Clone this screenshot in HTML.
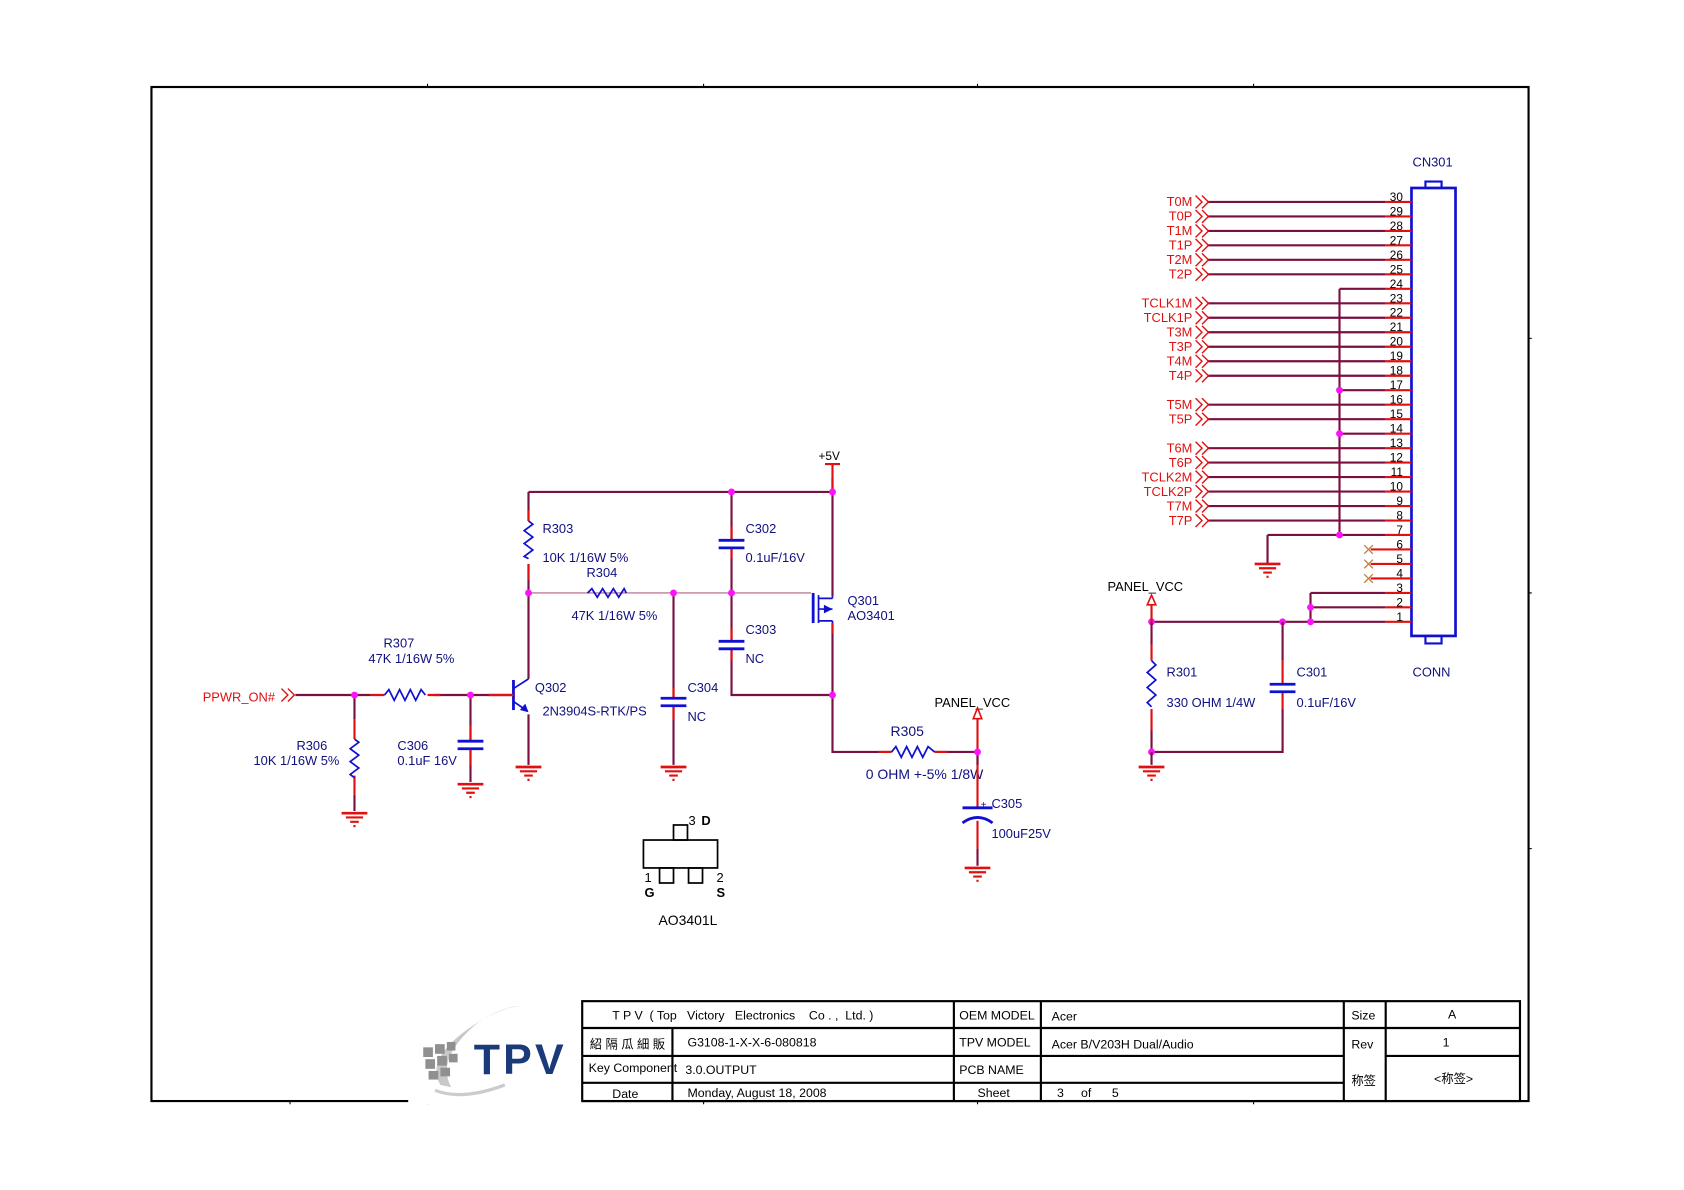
<!DOCTYPE html>
<html><head><meta charset="utf-8"><style>
html,body{margin:0;padding:0;background:#fff;}
svg{display:block;}
text{font-family:"Liberation Sans","Noto Sans CJK SC",sans-serif;}
.w{stroke:#7a1040;stroke-width:2;fill:none}
.t{stroke:#b06080;stroke-width:1;fill:none}
.r{stroke:#e01010;stroke-width:2;fill:none}
.b{stroke:#1010d0;stroke-width:1.6;fill:none}
.bb{stroke:#1010d0;stroke-width:2.6;fill:none}
.k{stroke:#000;stroke-width:1.6;fill:none}
.sig{fill:#e01010;font-size:12px;text-anchor:end}
.pn{fill:#000;font-size:11px;text-anchor:end}
.bl{fill:#101080;font-size:12px}
.tb{fill:#000;font-size:11.5px}
</style></head><body>
<svg width="1684" height="1190" viewBox="0 0 1567.7 1107.8" preserveAspectRatio="none" xmlns="http://www.w3.org/2000/svg">
<defs>
<g id="gnd"><path d="M-12 0H12" stroke="#e01010" stroke-width="2.5"/><path d="M-8 4H8M-4 8H4M-1 12H1" stroke="#e01010" stroke-width="2"/></g>
<g id="chev"><path d="M0 -6L6 0L0 6M6 -6L12 0L6 6" stroke="#e01010" stroke-width="1.3" fill="none"/></g>
<g id="jn"><circle r="3.2" fill="#ff10ff"/></g>
</defs>
<!-- frame -->
<rect x="141" y="81" width="1282" height="944" fill="none" stroke="#000" stroke-width="2"/>
<path d="M398 78v3M655 78v3M910 78v3M1167 78v3M1423 315h3M1423 552h3M1423 790h3M398 1025v3M655 1025v3M910 1025v3M1167 1025v3M270 1025v3" stroke="#000" stroke-width="1"/>

<!-- connector -->
<text x="1315" y="155" class="bl" font-size="12">CN301</text>
<rect x="1314" y="175" width="41" height="417" fill="none" stroke="#1010d0" stroke-width="2.5"/>
<rect x="1327" y="169" width="15" height="6" fill="none" stroke="#1010d0" stroke-width="2"/>
<rect x="1327" y="592" width="15" height="7" fill="none" stroke="#1010d0" stroke-width="2"/>
<text x="1315" y="630" class="bl">CONN</text>

<g>
<path class="w" d="M1124 188H1290M1124 201.5H1290M1124 215H1290M1124 228.4H1290M1124 241.9H1290M1124 255.4H1290M1124 282.4H1290M1124 295.8H1290M1124 309.3H1290M1124 322.8H1290M1124 336.3H1290M1124 349.8H1290M1124 376.7H1290M1124 390.2H1290M1124 417.2H1290M1124 430.6H1290M1124 444.1H1290M1124 457.6H1290M1124 471.1H1290M1124 484.6H1290"/>
<path class="w" d="M1247 268.9H1290M1247 363.2H1290M1247 403.7H1290M1180 498H1290M1247 268.9V498M1180 498V525M1220 552H1290M1220 552V578.9M1220 565.4H1290M1072 578.9H1290"/>
<path class="r" d="M1290 188H1314M1290 201.5H1314M1290 215H1314M1290 228.4H1314M1290 241.9H1314M1290 255.4H1314M1290 268.9H1314M1290 282.4H1314M1290 295.8H1314M1290 309.3H1314M1290 322.8H1314M1290 336.3H1314M1290 349.8H1314M1290 363.2H1314M1290 376.7H1314M1290 390.2H1314M1290 403.7H1314M1290 417.2H1314M1290 430.6H1314M1290 444.1H1314M1290 457.6H1314M1290 471.1H1314M1290 484.6H1314M1290 498H1314M1276 511.5H1314M1276 525H1314M1276 538.5H1314M1290 552H1314M1290 565.4H1314M1290 578.9H1314"/>
<path d="M1270 507.5l8 8M1278 507.5l-8 8M1270 521l8 8M1278 521l-8 8M1270 534.5l8 8M1278 534.5l-8 8" stroke="#c08040" stroke-width="1.2"/>
<use href="#gnd" x="1180" y="525"/>
<use href="#jn" x="1247" y="363.2"/><use href="#jn" x="1247" y="403.7"/><use href="#jn" x="1247" y="498"/>
<use href="#jn" x="1220" y="565.4"/><use href="#jn" x="1220" y="578.9"/><use href="#jn" x="1194" y="578.9"/><use href="#jn" x="1072" y="578.9"/>
<use href="#chev" x="1113" y="188"/><use href="#chev" x="1113" y="201.5"/><use href="#chev" x="1113" y="215"/><use href="#chev" x="1113" y="228.4"/><use href="#chev" x="1113" y="241.9"/><use href="#chev" x="1113" y="255.4"/>
<use href="#chev" x="1113" y="282.4"/><use href="#chev" x="1113" y="295.8"/><use href="#chev" x="1113" y="309.3"/><use href="#chev" x="1113" y="322.8"/><use href="#chev" x="1113" y="336.3"/><use href="#chev" x="1113" y="349.8"/>
<use href="#chev" x="1113" y="376.7"/><use href="#chev" x="1113" y="390.2"/>
<use href="#chev" x="1113" y="417.2"/><use href="#chev" x="1113" y="430.6"/><use href="#chev" x="1113" y="444.1"/><use href="#chev" x="1113" y="457.6"/><use href="#chev" x="1113" y="471.1"/><use href="#chev" x="1113" y="484.6"/>
<text class="sig" x="1110" y="192">T0M</text><text class="sig" x="1110" y="205.5">T0P</text><text class="sig" x="1110" y="219">T1M</text><text class="sig" x="1110" y="232.4">T1P</text><text class="sig" x="1110" y="245.9">T2M</text><text class="sig" x="1110" y="259.4">T2P</text>
<text class="sig" x="1110" y="286.4">TCLK1M</text><text class="sig" x="1110" y="299.8">TCLK1P</text><text class="sig" x="1110" y="313.3">T3M</text><text class="sig" x="1110" y="326.8">T3P</text><text class="sig" x="1110" y="340.3">T4M</text><text class="sig" x="1110" y="353.8">T4P</text>
<text class="sig" x="1110" y="380.7">T5M</text><text class="sig" x="1110" y="394.2">T5P</text>
<text class="sig" x="1110" y="421.2">T6M</text><text class="sig" x="1110" y="434.6">T6P</text><text class="sig" x="1110" y="448.1">TCLK2M</text><text class="sig" x="1110" y="461.6">TCLK2P</text><text class="sig" x="1110" y="475.1">T7M</text><text class="sig" x="1110" y="488.6">T7P</text>
<text class="pn" x="1306" y="187">30</text><text class="pn" x="1306" y="200.5">29</text><text class="pn" x="1306" y="214">28</text><text class="pn" x="1306" y="227.4">27</text><text class="pn" x="1306" y="240.9">26</text><text class="pn" x="1306" y="254.4">25</text><text class="pn" x="1306" y="267.9">24</text><text class="pn" x="1306" y="281.4">23</text><text class="pn" x="1306" y="294.8">22</text><text class="pn" x="1306" y="308.3">21</text><text class="pn" x="1306" y="321.8">20</text><text class="pn" x="1306" y="335.3">19</text><text class="pn" x="1306" y="348.8">18</text><text class="pn" x="1306" y="362.2">17</text><text class="pn" x="1306" y="375.7">16</text><text class="pn" x="1306" y="389.2">15</text><text class="pn" x="1306" y="402.7">14</text><text class="pn" x="1306" y="416.2">13</text><text class="pn" x="1306" y="429.6">12</text><text class="pn" x="1306" y="443.1">11</text><text class="pn" x="1306" y="456.6">10</text><text class="pn" x="1306" y="470.1">9</text><text class="pn" x="1306" y="483.6">8</text><text class="pn" x="1306" y="497">7</text><text class="pn" x="1306" y="510.5">6</text><text class="pn" x="1306" y="524">5</text><text class="pn" x="1306" y="537.5">4</text><text class="pn" x="1306" y="551">3</text><text class="pn" x="1306" y="564.4">2</text><text class="pn" x="1306" y="577.9">1</text>
</g>

<text x="1031" y="550" font-size="12" fill="#000">PANEL_VCC</text>
<path d="M1072 554l-4 9h8z" fill="none" stroke="#e01010" stroke-width="1.5"/>
<path class="r" d="M1072 563V578.9"/>
<path class="w" d="M1072 578.9V600M1072 680V700H1194V660M1194 578.9V615"/>
<path class="r" d="M1072 600V615M1072 660V680M1194 615V637M1194 644V660"/>
<path class="b" d="M1072 615l4 4-8 7 8 7-8 7 8 7-8 7 4 4"/>
<path class="bb" d="M1182 637H1206M1182 644H1206"/>
<use href="#jn" x="1072" y="700"/>
<path class="w" d="M1072 700V712"/><use href="#gnd" x="1072" y="714"/>
<text x="1086" y="630" class="bl">R301</text><text x="1086" y="658" class="bl">330 OHM 1/4W</text>
<text x="1207" y="630" class="bl">C301</text><text x="1207" y="658" class="bl">0.1uF/16V</text>

<text x="762" y="428" font-size="11" fill="#000">+5V</text>
<path class="r" d="M768 432H782M775 432V445"/>
<path class="w" d="M775 445V555M775 580V700H830M870 700H910M492 458H775M681 458V503M681 510V597M681 604V647H775"/>
<path class="t" d="M492 552H755"/>
<path class="w" d="M492 458V485M492 525V632M492 665V712M627 552V650M627 657V712"/>
<path class="r" d="M681 490V503M681 510V520M681 585V597M681 604V615M492 475V485M492 525V540M627 640V650M627 657V670M818 700H830M870 700H882M775 445V460M775 580V590"/>
<path class="b" d="M492 485l4 3-8 6 8 6-8 6 8 6-8 6 4 2"/>
<path class="b" d="M547 552l4-4 5 8 5-8 5 8 5-8 5 8 5-8 2 4"/>
<path class="bb" d="M669 503H693M669 510H693M669 597H693M669 604H693M615 650H639M615 657H639"/>
<path class="b" d="M830 700l4-5 5 10 5-10 5 10 5-10 5 10 5-10 6 5"/>
<path class="bb" d="M757 552V580"/><path class="b" d="M762 554V580M762 557H775M762 567H775M762 578H775M775 555V557M775 578V580"/>
<path d="M775 567l-8-4v8z" fill="#1010d0"/>
<text x="789" y="563" class="bl">Q301</text><text x="789" y="577" class="bl">AO3401</text>
<use href="#jn" x="681" y="458"/><use href="#jn" x="775" y="458"/><use href="#jn" x="492" y="552"/><use href="#jn" x="627" y="552"/><use href="#jn" x="681" y="552"/><use href="#jn" x="775" y="647"/>
<use href="#gnd" x="492" y="714"/><use href="#gnd" x="627" y="714"/>
<text x="505" y="496" class="bl">R303</text><text x="505" y="523" class="bl">10K 1/16W 5%</text>
<text x="546" y="537" class="bl">R304</text><text x="532" y="577" class="bl">47K 1/16W 5%</text>
<text x="694" y="496" class="bl">C302</text><text x="694" y="523" class="bl">0.1uF/16V</text>
<text x="694" y="590" class="bl">C303</text><text x="694" y="617" class="bl">NC</text>
<text x="640" y="644" class="bl">C304</text><text x="640" y="671" class="bl">NC</text>
<path class="bb" d="M478 633V661"/>
<path class="b" d="M478 641L492 632M478 653L491 662"/><path d="M492 663l-8-2 5-6z" fill="#1010d0"/>
<text x="498" y="644" class="bl">Q302</text><text x="505" y="666" class="bl">2N3904S-RTK/PS</text>
<text x="256" y="653" font-size="12" fill="#e01010" text-anchor="end">PPWR_ON#</text>
<use href="#chev" x="262" y="647"/>
<path class="w" d="M275 647H345M405 647H478M330 647V670M330 740V755M438 647V690M438 697V728"/>
<path class="r" d="M345 647H358M398 647H410M455 647H478M330 670V688M330 722V740M438 675V690M438 697V712"/>
<path class="b" d="M358 647l4-5 5 10 5-10 5 10 5-10 5 10 5-10 4 5"/>
<path class="b" d="M330 688l4 3-8 6 8 6-8 6 8 6-8 6 4 3"/>
<path class="bb" d="M426 690H450M426 697H450"/>
<use href="#jn" x="330" y="647"/><use href="#jn" x="438" y="647"/>
<use href="#gnd" x="330" y="757"/><use href="#gnd" x="438" y="730"/>
<text x="357" y="603" class="bl">R307</text><text x="343" y="617" class="bl">47K 1/16W 5%</text>
<text x="276" y="698" class="bl">R306</text><text x="236" y="712" class="bl">10K 1/16W 5%</text>
<text x="370" y="698" class="bl">C306</text><text x="370" y="712" class="bl">0.1uF 16V</text>
<text x="829" y="685" font-size="13" fill="#101080">R305</text>
<text x="806" y="725" font-size="13" fill="#101080">0 OHM +-5% 1/8W</text>
<text x="870" y="658" font-size="12" fill="#000">PANEL_VCC</text>
<path d="M910 659l-4 10h8z" fill="none" stroke="#e01010" stroke-width="1.5"/>
<path class="r" d="M910 669V700M910 700V752M910 764V790"/>
<path class="w" d="M910 700V712M910 790V806"/>
<use href="#jn" x="910" y="700"/>
<path class="bb" d="M896 752H924"/><path d="M896 766Q910 756 924 766" stroke="#1010d0" stroke-width="2.6" fill="none"/>
<text x="913" y="752" font-size="9" fill="#101080">+</text>
<text x="923" y="752" class="bl">C305</text><text x="923" y="780" class="bl">100uF25V</text>
<use href="#gnd" x="910" y="808"/>
<rect x="599" y="782" width="69" height="26" fill="none" stroke="#000" stroke-width="1.6"/>
<rect x="627" y="768" width="13" height="14" fill="none" stroke="#000" stroke-width="1.6"/>
<rect x="614" y="808" width="13" height="14" fill="none" stroke="#000" stroke-width="1.6"/>
<rect x="641" y="808" width="13" height="14" fill="none" stroke="#000" stroke-width="1.6"/>
<text x="641" y="768" font-size="12">3</text><text x="653" y="768" font-size="12" font-weight="bold">D</text>
<text x="600" y="821" font-size="12">1</text><text x="600" y="835" font-size="12" font-weight="bold">G</text>
<text x="667" y="821" font-size="12">2</text><text x="667" y="835" font-size="12" font-weight="bold">S</text>
<text x="613" y="861" font-size="13" fill="#000">AO3401L</text>

<rect x="380" y="1022" width="162" height="6" fill="#fff"/>
<path d="M410 1010Q395 985 440 955Q470 935 488 937Q470 935 445 952Q405 985 420 1012" fill="#c8c8c8"/>
<path d="M405 1015Q430 1025 470 1010" stroke="#ccc" stroke-width="3" fill="none"/>
<g fill="#909090"><rect x="394" y="975" width="9" height="9"/><rect x="405" y="972" width="9" height="9"/><rect x="396" y="986" width="9" height="9"/><rect x="407" y="983" width="9" height="9"/><rect x="399" y="997" width="9" height="8"/><rect x="410" y="994" width="9" height="8"/><rect x="416" y="970" width="8" height="8"/><rect x="418" y="981" width="8" height="8"/></g>
<text x="441" y="1000" font-size="40" font-weight="bold" fill="#1a3a7a" letter-spacing="3">TPV</text>

<g stroke="#000" fill="none">
<rect x="542" y="932" width="873" height="93" stroke-width="2"/>
<path d="M542 957H1415M542 983H1251M1290 983H1415M542 1008H1251" stroke-width="2"/>
<path d="M626 957V1025M888 932V1025M969 932V1025M1251 932V1025M1290 932V1025" stroke-width="2"/>
</g>
<text class="tb" x="570" y="949">T P V &#160;( Top &#160; Victory &#160; Electronics &#160;&#160; Co . , &#160;Ltd. )</text>
<text class="tb" x="893" y="949">OEM MODEL</text><text class="tb" x="979" y="950">Acer</text>
<text class="tb" x="1258" y="949">Size</text><text class="tb" x="1348" y="948">A</text>
<text class="tb" x="549" y="976" font-size="11">紹 隔 瓜 細 販</text><text class="tb" x="640" y="974">G3108-1-X-X-6-080818</text>
<text class="tb" x="893" y="974">TPV MODEL</text><text class="tb" x="979" y="976">Acer B/V203H Dual/Audio</text>
<text class="tb" x="1258" y="976">Rev</text><text class="tb" x="1343" y="974">1</text>
<text class="tb" x="548" y="998" font-size="9">Key Component</text><text class="tb" x="638" y="1000">3.0.OUTPUT</text>
<text class="tb" x="893" y="1000">PCB NAME</text>
<text class="tb" x="1258" y="1010" font-size="11">称签</text><text class="tb" x="1335" y="1008" font-size="11">&lt;称签&gt;</text>
<text class="tb" x="570" y="1022">Date</text><text class="tb" x="640" y="1021">Monday, August 18, 2008</text>
<text class="tb" x="910" y="1021">Sheet</text><text class="tb" x="984" y="1021">3 &#160;&#160;&#160; of &#160;&#160;&#160;&#160; 5</text>
</svg>
</body></html>
